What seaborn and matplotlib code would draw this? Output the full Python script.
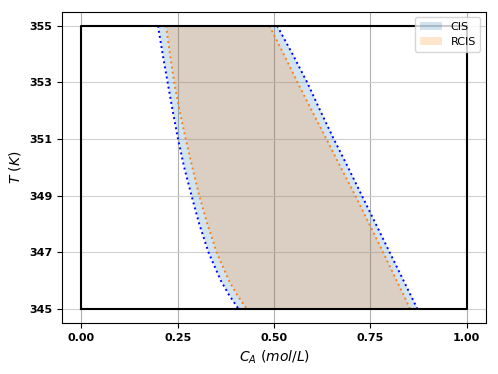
import numpy as np
import matplotlib
matplotlib.use('Agg')
import matplotlib.pyplot as plt
import seaborn as sns

# temperature levels (K) where the set boundaries were read
T = [355, 354, 353, 352, 351, 350, 349, 348, 347, 346, 345.5, 345]

# control invariant set (CIS) boundaries in C_A (mol/L)
cis_left = [0.199, 0.211, 0.224, 0.237, 0.251, 0.267, 0.286, 0.306, 0.330, 0.362, 0.383, 0.408]
cis_right = [0.508, 0.548, 0.586, 0.620, 0.655, 0.692, 0.728, 0.764, 0.800, 0.836, 0.854, 0.872]

# robust control invariant set (RCIS) boundaries
rcis_left = [0.220, 0.230, 0.241, 0.255, 0.271, 0.288, 0.306, 0.327, 0.351, 0.383, 0.404, 0.429]
rcis_right = [0.488, 0.525, 0.561, 0.598, 0.636, 0.673, 0.711, 0.747, 0.783, 0.818, 0.836, 0.853]

# state constraint box
box_x = [0, 1, 1, 0, 0]
box_y = [345, 345, 355, 355, 345]

xticks = [0.0, 0.25, 0.5, 0.75, 1.0]
yticks = [345, 347, 349, 351, 353, 355]

plt.rcParams['font.family'] = ['DejaVu Sans']

fig = plt.figure(figsize=(4.98, 3.74), dpi=100)
ax = fig.add_axes([0.1245, 0.136, 0.8515, 0.833])

ax.xaxis.grid(True, color='#b0b0b0', linewidth=0.8)
ax.yaxis.grid(True, color='#d0d0d0', linewidth=0.8)
ax.set_axisbelow(True)

# filled sets
ax.fill_betweenx(T, cis_left, cis_right, color='C0', alpha=0.2, linewidth=0, label='CIS')
ax.fill_betweenx(T, rcis_left, rcis_right, color='C1', alpha=0.2, linewidth=0, label='RCIS')

# dotted boundaries
for xs, c in [(cis_left, 'blue'), (cis_right, 'blue'), (rcis_left, 'C1'), (rcis_right, 'C1')]:
    sns.lineplot(x=xs, y=T, sort=False, ax=ax, color=c, linestyle=':', linewidth=1.4, legend=False)

ax.plot(box_x, box_y, color='black', linewidth=1.5)

ax.set_xticks(xticks)
ax.set_yticks(yticks)
ax.set_xticklabels([f'{v:.2f}' for v in xticks], fontweight='bold', fontsize=8)
ax.set_yticklabels([str(v) for v in yticks], fontweight='bold', fontsize=8)
ax.set_xlim(-0.05, 1.05)
ax.set_ylim(344.5, 355.5)

ax.set_xlabel('$C_A$ $(mol/L)$', fontsize=10)
ax.set_ylabel('$T$ $(K)$', fontsize=10)
ax.legend(loc='upper right', fontsize=8)

fig.savefig('out.png', dpi=100)
